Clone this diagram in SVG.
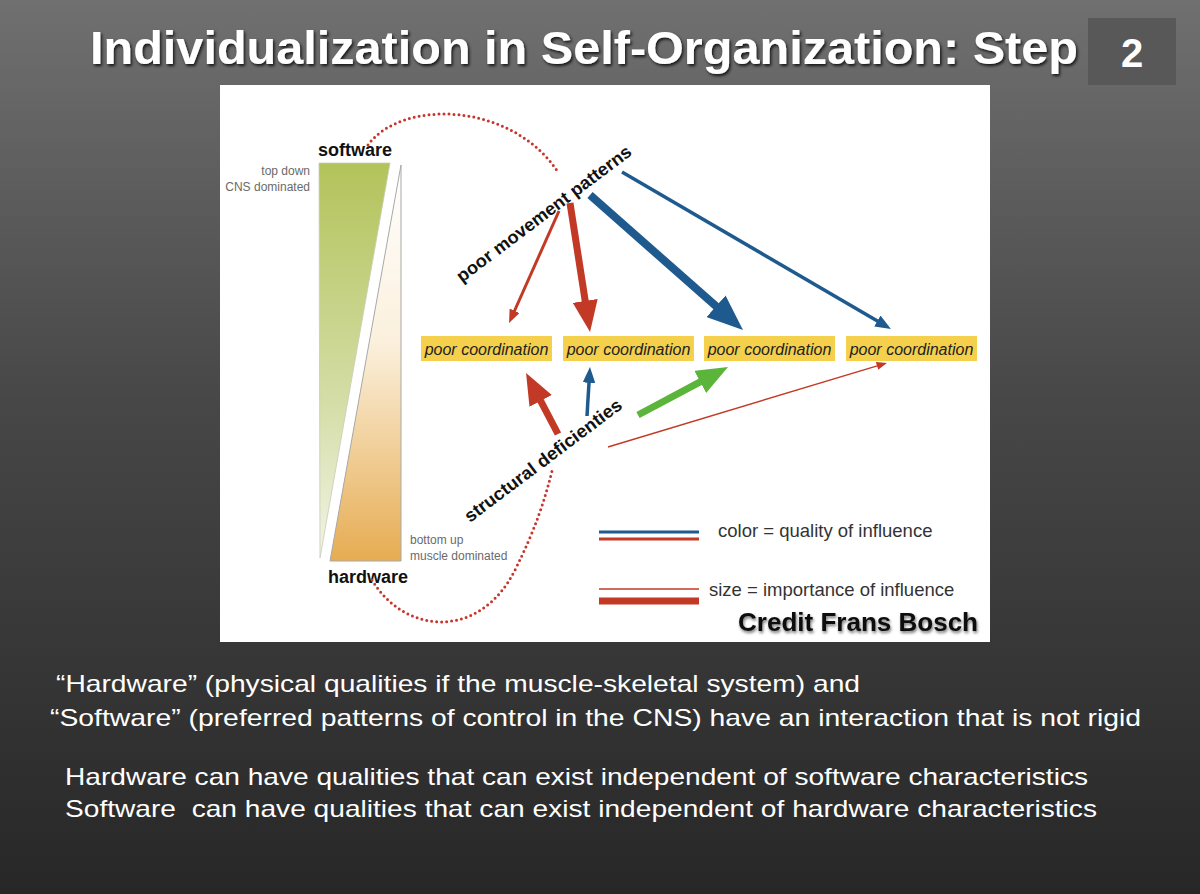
<svg xmlns="http://www.w3.org/2000/svg" width="1200" height="894" viewBox="0 0 1200 894">
<defs>
<linearGradient id="bg" x1="0" y1="0" x2="0" y2="1">
<stop offset="0" stop-color="#707070"/>
<stop offset="0.45" stop-color="#474747"/>
<stop offset="1" stop-color="#272727"/>
</linearGradient>
<linearGradient id="gGreen" x1="0" y1="0" x2="0" y2="1">
<stop offset="0" stop-color="#b3c35a"/>
<stop offset="0.6" stop-color="#d4ddA6"/>
<stop offset="1" stop-color="#f2f4e6"/>
</linearGradient>
<linearGradient id="gOrange" x1="0" y1="0" x2="0" y2="1">
<stop offset="0" stop-color="#ffffff"/>
<stop offset="0.45" stop-color="#fbf0dc"/>
<stop offset="1" stop-color="#e6ac52"/>
</linearGradient>
<filter id="shadow" x="-5%" y="-20%" width="110%" height="150%">
<feDropShadow dx="1.5" dy="2" stdDeviation="1.5" flood-color="#000" flood-opacity="0.8"/>
</filter>
<filter id="shadowLight" x="-5%" y="-20%" width="110%" height="150%">
<feDropShadow dx="1" dy="2" stdDeviation="1.5" flood-color="#000" flood-opacity="0.55"/>
</filter>
<marker id="hRed" viewBox="0 0 10 8" markerWidth="4.5" markerHeight="3.6" refX="1" refY="4" orient="auto" markerUnits="strokeWidth">
<path d="M0,0 L10,4 L0,8 z" fill="#c23a25"/>
</marker>
<marker id="hRedThin" viewBox="0 0 10 8" markerWidth="7" markerHeight="5.5" refX="1" refY="4" orient="auto" markerUnits="strokeWidth">
<path d="M0,0 L10,4 L0,8 z" fill="#c23a25"/>
</marker>
<marker id="hBlue" viewBox="0 0 10 8" markerWidth="4.5" markerHeight="3.6" refX="1" refY="4" orient="auto" markerUnits="strokeWidth">
<path d="M0,0 L10,4 L0,8 z" fill="#1f5a8f"/>
</marker>
<marker id="hGreen" viewBox="0 0 10 8" markerWidth="4.5" markerHeight="3.6" refX="1" refY="4" orient="auto" markerUnits="strokeWidth">
<path d="M0,0 L10,4 L0,8 z" fill="#5bb53a"/>
</marker>
</defs>
<style>
.title{font-family:"Liberation Sans",Arial,sans-serif;font-weight:bold;fill:#ffffff}
.lbl{font-family:"Liberation Sans",Arial,sans-serif;font-weight:bold;fill:#111111;font-size:18px}
.small{font-family:"Liberation Sans",Arial,sans-serif;fill:#6a6a6a;font-size:12px}
.box{fill:#f4d04c}
.boxt{font-family:"Liberation Sans",Arial,sans-serif;font-style:italic;fill:#222222;font-size:16px;text-anchor:middle}
.legend{font-family:"Liberation Sans",Arial,sans-serif;fill:#333333;font-size:18.5px}
.body{font-family:"Liberation Sans",Arial,sans-serif;fill:#ffffff;font-size:24px}
.dots{fill:none;stroke:#c8352c;stroke-width:3;stroke-linecap:round;stroke-dasharray:0 5}
.red{stroke:#c23a25;fill:none}
.blue{stroke:#1f5a8f;fill:none}
.green{stroke:#5bb53a;fill:none}
</style>

<rect x="0" y="0" width="1200" height="894" fill="url(#bg)"/>

<g id="title">
<text class="title" x="90" y="64" font-size="46" textLength="988" lengthAdjust="spacingAndGlyphs" filter="url(#shadow)">Individualization in Self-Organization: Step</text>
</g>
<g id="step-number">
<rect x="1088" y="18" width="88" height="67" fill="#585858"/>
<text class="title" x="1132" y="67" font-size="40" text-anchor="middle">2</text>
</g>

<g id="panel">
<rect x="220" y="85" width="770" height="557" fill="#ffffff"/>
</g>

<g id="software-hardware">
<polygon points="319,163 390,163 320,558" fill="url(#gGreen)" stroke="#c8cbb8" stroke-width="0.8"/>
<polygon points="401,165 401,561 330,561" fill="url(#gOrange)" stroke="#a8a8a8" stroke-width="1"/>
<text class="lbl" x="318" y="156">software</text>
<text class="small" x="310" y="175" text-anchor="end">top down</text>
<text class="small" x="310" y="191" text-anchor="end">CNS dominated</text>
<text class="lbl" x="328" y="583">hardware</text>
<text class="small" x="410" y="544">bottom up</text>
<text class="small" x="410" y="560">muscle dominated</text>
</g>

<g id="poor-movement-patterns">
<text class="lbl" transform="translate(462,283) rotate(-37)" textLength="214" lengthAdjust="spacingAndGlyphs">poor movement patterns</text>
</g>
<g id="structural-deficienties">
<text class="lbl" transform="translate(470,523) rotate(-37)" textLength="192" lengthAdjust="spacingAndGlyphs">structural deficienties</text>
</g>

<g id="coord1"><rect class="box" x="421" y="336" width="131" height="25"/><text class="boxt" x="486.5" y="354.5">poor coordination</text></g>
<g id="coord2"><rect class="box" x="563" y="336" width="131" height="25"/><text class="boxt" x="628.5" y="354.5">poor coordination</text></g>
<g id="coord3"><rect class="box" x="704" y="336" width="131" height="25"/><text class="boxt" x="769.5" y="354.5">poor coordination</text></g>
<g id="coord4"><rect class="box" x="846" y="336" width="131" height="25"/><text class="boxt" x="911.5" y="354.5">poor coordination</text></g>

<g id="connectors">
<path class="dots" d="M368,145 C400,100 510,100 558,172"/>
<path class="dots" d="M372,580 C405,635 480,640 515,570 C535,530 545,500 553,467"/>
<line class="red" x1="559" y1="211" x2="514" y2="312" stroke-width="3" marker-end="url(#hRed)"/>
<line class="red" x1="570" y1="203" x2="585.7" y2="304" stroke-width="7" marker-end="url(#hRed)"/>
<line class="blue" x1="590" y1="195" x2="718.7" y2="308.6" stroke-width="8" marker-end="url(#hBlue)"/>
<line class="blue" x1="622" y1="172" x2="878.7" y2="321.8" stroke-width="3.5" marker-end="url(#hBlue)"/>
<line class="red" x1="558" y1="434" x2="539.2" y2="398.1" stroke-width="7" marker-end="url(#hRed)"/>
<line class="blue" x1="587" y1="416" x2="589.1" y2="381.2" stroke-width="3.5" marker-end="url(#hBlue)"/>
<line class="green" x1="638" y1="415" x2="703" y2="380.4" stroke-width="7" marker-end="url(#hGreen)"/>
<line class="red" x1="608" y1="447" x2="878" y2="365.6" stroke-width="1.5" marker-end="url(#hRedThin)"/>
</g>

<g id="legend">
<line class="blue" x1="599" y1="532" x2="699" y2="532" stroke-width="3"/>
<line class="red" x1="599" y1="539" x2="699" y2="539" stroke-width="3"/>
<text class="legend" x="718" y="537">color = quality of influence</text>
<line class="red" x1="599" y1="589" x2="699" y2="589" stroke-width="1.5"/>
<line class="red" x1="599" y1="601" x2="699" y2="601" stroke-width="7"/>
<text class="legend" x="709" y="596">size = importance of influence</text>
</g>

<g id="credit">
<text x="738" y="631" font-family="Liberation Sans, Arial, sans-serif" font-weight="bold" font-size="25" fill="#111111" textLength="240" lengthAdjust="spacingAndGlyphs" filter="url(#shadowLight)">Credit Frans Bosch</text>
</g>

<g id="body-text">
<text class="body" x="56" y="692" textLength="804" lengthAdjust="spacingAndGlyphs">“Hardware” (physical qualities if the muscle-skeletal system) and</text>
<text class="body" x="50" y="726" textLength="1091" lengthAdjust="spacingAndGlyphs">“Software” (preferred patterns of control in the CNS) have an interaction that is not rigid</text>
<text class="body" x="65" y="785" textLength="1023" lengthAdjust="spacingAndGlyphs">Hardware can have qualities that can exist independent of software characteristics</text>
<text class="body" x="65" y="817" textLength="1032" lengthAdjust="spacingAndGlyphs">Software &#160;can have qualities that can exist independent of hardware characteristics</text>
</g>
</svg>
